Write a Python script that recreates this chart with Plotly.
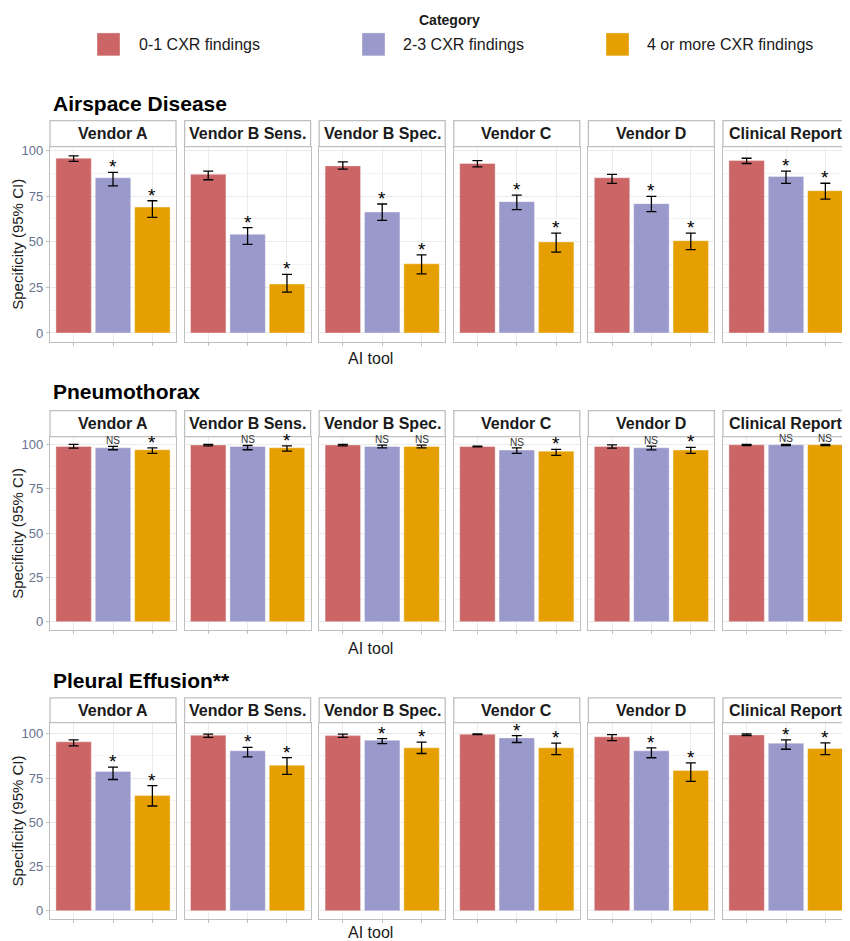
import plotly.graph_objects as go

# ---------------- data ----------------
vendors = ["Vendor A", "Vendor B Sens.", "Vendor B Spec.", "Vendor C", "Vendor D", "Clinical Report"]
categories = ["0-1 CXR findings", "2-3 CXR findings", "4 or more CXR findings"]
conditions = ["Airspace Disease", "Pneumothorax", "Pleural Effusion**"]
y_tick_vals = [0, 25, 50, 75, 100]

airspace_spec = [[95.8, 85.1, 69.0], [87.0, 54.1, 26.8], [91.6, 66.3, 37.9],
                 [92.9, 72.0, 49.9], [85.1, 70.9, 50.6], [94.5, 85.8, 78.0]]
airspace_lo = [[94.1, 80.7, 63.4], [84.0, 48.6, 22.4], [89.8, 61.7, 32.4],
               [91.1, 67.6, 44.3], [82.0, 66.5, 45.7], [92.9, 82.0, 73.4]]
airspace_hi = [[97.1, 88.0, 72.5], [88.7, 57.8, 32.1], [93.8, 70.7, 42.8],
               [94.5, 75.6, 54.8], [86.9, 74.9, 54.8], [95.8, 88.7, 82.1]]
airspace_sig = [["*", "*"], ["*", "*"], ["*", "*"], ["*", "*"], ["*", "*"], ["*", "*"]]

pneumo_spec = [[98.9, 98.1, 97.0], [99.7, 98.9, 98.1], [99.7, 98.9, 98.9],
               [98.8, 96.8, 96.2], [98.8, 98.1, 96.8], [99.8, 99.8, 99.8]]
pneumo_lo = [[97.9, 97.0, 94.9], [99.2, 97.0, 96.2], [99.2, 98.1, 98.1],
             [98.6, 94.9, 93.8], [97.9, 96.9, 94.9], [99.3, 99.3, 99.3]]
pneumo_hi = [[100.0, 98.9, 98.1], [100.0, 99.4, 99.2], [100.0, 99.6, 99.6],
             [99.0, 98.1, 97.2], [99.8, 99.0, 98.3], [100.0, 100.0, 100.0]]
pneumo_sig = [["NS", "*"], ["NS", "*"], ["NS", "NS"], ["NS", "*"], ["NS", "*"], ["NS", "NS"]]

pleural_spec = [[95.5, 78.7, 65.2], [99.2, 90.4, 82.3], [99.0, 96.4, 92.1],
                [99.8, 97.7, 92.1], [98.3, 90.4, 79.3], [99.4, 94.7, 91.7]]
pleural_lo = [[93.2, 74.2, 59.2], [98.0, 87.0, 77.1], [98.0, 94.5, 88.9],
              [99.6, 95.1, 88.2], [96.2, 86.5, 73.1], [99.0, 91.3, 88.3]]
pleural_hi = [[96.6, 81.2, 70.7], [99.8, 92.3, 86.6], [99.8, 97.3, 95.3],
              [100.0, 99.0, 94.7], [99.6, 92.1, 83.6], [99.9, 96.6, 94.9]]
pleural_sig = [["*", "*"], ["*", "*"], ["*", "*"], ["*", "*"], ["*", "*"], ["*", "*"]]

# ---------------- style / layout ----------------
OFF = 8              # page body margin
W, H = 842, 933      # figure size so that it fills the 850x941 window
FONT = "Liberation Sans, Arial, sans-serif"
colors = ["#CC6666", "#9999CC", "#E69F00"]
border = "#BFBFBF"
grid = "#EBEBEB"

# positions below are in window pixels
col_left = [50, 184.6, 319.2, 453.8, 588.4, 723]
panel_w = 126
plot_top = [144, 435, 722]
plot_bot = [340, 629, 919]
strip_top = [118, 409, 697]
title_y = [101, 390, 680]
aitool_y = [357, 648, 932]
y_ranges = [[-4.9, 102.2], [-4.7, 104.4], [-4.7, 106.3]]

spec_rows = [airspace_spec, pneumo_spec, pleural_spec]
lo_rows = [airspace_lo, pneumo_lo, pleural_lo]
hi_rows = [airspace_hi, pneumo_hi, pleural_hi]
sig_rows = [airspace_sig, pneumo_sig, pleural_sig]


def px_x(x):
    return (x - OFF) / W


def px_y(y):
    return 1 - (y - OFF) / H


fig = go.Figure()
layout = dict(
    width=W, height=H, margin=dict(l=0, r=0, t=0, b=0),
    paper_bgcolor="white", plot_bgcolor="white",
    showlegend=False, font=dict(family=FONT, color="#1A1A1A"),
)
shapes = []
annotations = []

for r in range(3):
    for c in range(6):
        idx = r * 6 + c + 1
        xa = "x" if idx == 1 else f"x{idx}"
        ya = "y" if idx == 1 else f"y{idx}"
        vals = spec_rows[r][c]
        lo = lo_rows[r][c]
        hi = hi_rows[r][c]
        fig.add_trace(go.Bar(
            x=categories, y=vals, width=0.9,
            marker=dict(color=colors, line=dict(color="rgba(255,255,255,0.6)", width=0.6)),
            error_y=dict(type="data", symmetric=False,
                         array=[h - v for h, v in zip(hi, vals)],
                         arrayminus=[v - l for v, l in zip(vals, lo)],
                         width=5, thickness=1.3, color="black"),
            xaxis=xa, yaxis=ya, hoverinfo="skip",
        ))
        left = col_left[c]
        layout[f"xaxis{'' if idx == 1 else idx}"] = dict(
            domain=[px_x(left), px_x(left + panel_w)], anchor=ya,
            type="category", categoryorder="array", categoryarray=categories,
            range=[-0.6, 2.6], showticklabels=False,
            ticks="outside", ticklen=3, tickcolor=border, tickwidth=1,
            showgrid=True, gridcolor=grid, gridwidth=1,
            showline=True, mirror=True, linecolor=border, linewidth=1.3,
            zeroline=False, fixedrange=True,
        )
        first = c == 0
        layout[f"yaxis{'' if idx == 1 else idx}"] = dict(
            domain=[px_y(plot_bot[r]), px_y(plot_top[r])], anchor=xa,
            range=y_ranges[r], tickvals=y_tick_vals,
            showticklabels=first, ticks="outside" if first else "",
            ticklen=3, tickcolor=border, tickwidth=1,
            tickfont=dict(size=13, color="#66728F", family=FONT),
            showgrid=True, gridcolor=grid, gridwidth=1,
            minor=dict(tickvals=[12.5, 37.5, 62.5, 87.5], showgrid=True,
                       gridcolor="#F3F3F3", gridwidth=0.6),
            showline=True, mirror=True, linecolor=border, linewidth=1.3,
            zeroline=False, fixedrange=True,
        )
        # strip
        shapes.append(dict(type="rect", xref="paper", yref="paper",
                           x0=px_x(left), x1=px_x(left + panel_w),
                           y0=px_y(plot_top[r]), y1=px_y(strip_top[r]),
                           line=dict(color=border, width=1.3), fillcolor="white", layer="above"))
        annotations.append(dict(xref="paper", yref="paper",
                                x=px_x(left + panel_w / 2),
                                y=px_y((plot_top[r] + strip_top[r]) / 2),
                                text=f"<b>{vendors[c]}</b>", showarrow=False,
                                font=dict(size=16, color="#1A1A1A", family=FONT),
                                xanchor="center", yanchor="middle"))
        # significance labels
        for k in range(2):
            s = sig_rows[r][c][k]
            if s == "*":
                annotations.append(dict(xref=xa, yref=ya, x=categories[k + 1], y=hi[k + 1],
                                        text="*", showarrow=False, xanchor="center",
                                        yanchor="bottom", yshift=-7,
                                        font=dict(size=19, color="black", family=FONT)))
            else:
                annotations.append(dict(xref=xa, yref=ya, x=categories[k + 1], y=hi[k + 1],
                                        text="NS", showarrow=False, xanchor="center",
                                        yanchor="bottom", yshift=-2,
                                        font=dict(size=10, color="#333333", family=FONT)))

    # row title
    annotations.append(dict(xref="paper", yref="paper", x=px_x(51), y=px_y(title_y[r]),
                            text=f"<b>{conditions[r]}</b>", showarrow=False,
                            xanchor="left", yanchor="middle",
                            font=dict(size=21, color="black", family=FONT)))
    # y axis title
    annotations.append(dict(xref="paper", yref="paper", x=px_x(17.5),
                            y=px_y((plot_top[r] + plot_bot[r]) / 2),
                            text="Specificity (95% CI)", showarrow=False, textangle=-90,
                            xanchor="center", yanchor="middle", borderpad=0,
                            font=dict(size=15, color="#1A1A1A", family=FONT)))
    # x axis title
    annotations.append(dict(xref="paper", yref="paper", x=px_x(370), y=px_y(aitool_y[r]),
                            text="AI tool", showarrow=False,
                            xanchor="center", yanchor="middle",
                            font=dict(size=16, color="#1A1A1A", family=FONT)))

# legend (drawn manually)
annotations.append(dict(xref="paper", yref="paper", x=px_x(449), y=px_y(17),
                        text="<b>Category</b>", showarrow=False,
                        xanchor="center", yanchor="middle", borderpad=0,
                        font=dict(size=14, color="#1A1A1A", family=FONT)))
sw_left = [97, 362, 606]
txt_left = [137, 401, 645]
for i, cat in enumerate(categories):
    shapes.append(dict(type="rect", xref="paper", yref="paper",
                       x0=px_x(sw_left[i]), x1=px_x(sw_left[i] + 23),
                       y0=px_y(53), y1=px_y(30),
                       line=dict(color="rgba(255,255,255,0.6)", width=0.6), fillcolor=colors[i]))
    annotations.append(dict(xref="paper", yref="paper", x=px_x(txt_left[i]), y=px_y(42),
                            text=cat, showarrow=False, xanchor="left", yanchor="middle",
                            font=dict(size=16, color="#1A1A1A", family=FONT)))

layout["shapes"] = shapes
layout["annotations"] = annotations
fig.update_layout(**layout)
fig.write_html("out.html")
